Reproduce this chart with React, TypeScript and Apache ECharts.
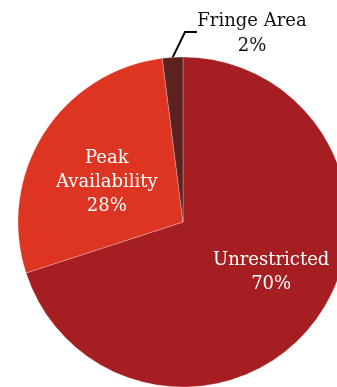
import React, { useEffect, useRef } from "react";
import * as echarts from "echarts";

const categories = ["Unrestricted", "Peak Availability", "Fringe Area"];
const labelNames = ["Unrestricted", "Peak\nAvailability", "Fringe Area"];
const values = [70, 28, 2];
const colors = ["#A51E21", "#DD3522", "#5B221F"];

const FONT = "Georgia, 'DejaVu Serif', serif";

export default function App() {
  const ref = useRef<HTMLDivElement>(null);
  useEffect(() => {
    document.body.style.margin = "0";
    const chart = echarts.init(ref.current!, null, { renderer: "svg" });
    const data = categories.map((c, i) => {
      const inside = i < 2;
      return {
        name: c,
        value: values[i],
        itemStyle: { color: colors[i] },
        label: inside
          ? {
              position: "inside",
              formatter: () => `${labelNames[i]}\n${values[i]}%`,
              color: "#fff",
              fontFamily: FONT,
              fontSize: 18,
              lineHeight: 24,
              align: "center",
            }
          : {
              position: "outside",
              formatter: () => `{a|${labelNames[i]}}\n{a|${values[i]}%}`,
              color: "#111",
              padding: [4, 0, 0, 0],
              rich: {
                a: {
                  fontFamily: FONT,
                  fontSize: 18,
                  lineHeight: 25,
                  width: 110,
                  align: "center",
                  color: "#111",
                },
              },
            },
        labelLine: inside
          ? { show: false }
          : { show: true, length: 26, length2: 12, lineStyle: { color: "#000", width: 2 } },
      };
    });
    chart.setOption({
      animation: false,
      series: [
        {
          type: "pie",
          center: [183, 222],
          radius: [0, 165],
          startAngle: 90,
          clockwise: true,
          avoidLabelOverlap: false,
          itemStyle: { borderColor: "rgba(255,255,255,0.5)", borderWidth: 0.5 },
          labelLayout: (params: any) => {
            if (params.dataIndex === 0) return { dx: 19, dy: -2 };
            if (params.dataIndex === 1) return { dx: -4, dy: 4 };
            return { x: 197, y: 30, align: "left", verticalAlign: "middle" };
          },
          data,
        },
      ],
    });
    return () => chart.dispose();
  }, []);
  return <div ref={ref} style={{ position: "fixed", left: 0, top: 0, width: 337, height: 387 }} />;
}
